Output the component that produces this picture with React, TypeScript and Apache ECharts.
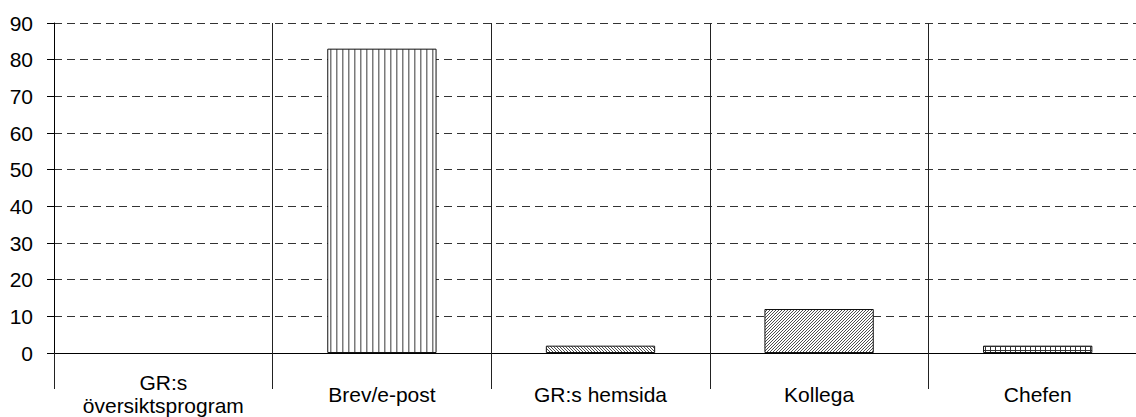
import React, { useEffect, useRef } from "react";
import * as echarts from "echarts";

const categories = ["GR:s\növersiktsprogram", "Brev/e-post", "GR:s hemsida", "Kollega", "Chefen"];
const values = [0, 83, 2, 12, 2];
const yTicks = { min: 0, max: 90, interval: 10 };

type Drawer = (ctx: CanvasRenderingContext2D) => void;

function makePattern(w: number, h: number, draw: Drawer) {
  const c = document.createElement("canvas");
  c.width = w;
  c.height = h;
  const ctx = c.getContext("2d") as CanvasRenderingContext2D;
  ctx.fillStyle = "#ffffff";
  ctx.fillRect(0, 0, w, h);
  draw(ctx);
  return { image: c, repeat: "repeat", imageWidth: w, imageHeight: h };
}

function buildPatterns() {
  const vertical = makePattern(6, 6, (ctx) => {
    ctx.fillStyle = "#7a7a7a";
    ctx.fillRect(0, 0, 1.5, 6);
  });
  const back = makePattern(3, 3, (ctx) => {
    ctx.strokeStyle = "#222";
    ctx.lineWidth = 0.8;
    ctx.beginPath();
    ctx.moveTo(0, 0); ctx.lineTo(3, 3);
    ctx.moveTo(-1, 2); ctx.lineTo(1, 4);
    ctx.moveTo(2, -1); ctx.lineTo(4, 1);
    ctx.stroke();
  });
  const fwd = makePattern(3, 3, (ctx) => {
    ctx.strokeStyle = "#222";
    ctx.lineWidth = 0.8;
    ctx.beginPath();
    ctx.moveTo(0, 3); ctx.lineTo(3, 0);
    ctx.moveTo(-1, 1); ctx.lineTo(1, -1);
    ctx.moveTo(2, 4); ctx.lineTo(4, 2);
    ctx.stroke();
  });
  const grid = makePattern(5, 4, (ctx) => {
    ctx.fillStyle = "#333";
    ctx.fillRect(0, 0, 1, 4);
    ctx.fillRect(0, 2, 5, 1);
  });
  return [null, vertical, back, fwd, grid];
}

export default function App() {
  const ref = useRef<HTMLDivElement>(null);
  useEffect(() => {
    if (!ref.current) return;
    const chart = echarts.init(ref.current, null, { renderer: "svg" });
    const patterns = buildPatterns();
    const font = "Arial, 'Liberation Sans', sans-serif";
    chart.setOption({
      animation: false,
      backgroundColor: "#ffffff",
      grid: { left: 54, top: 23, bottom: 61, right: 0, containLabel: false },
      xAxis: {
        type: "category",
        data: categories,
        boundaryGap: true,
        axisLine: { show: true, lineStyle: { color: "#000", width: 1 } },
        axisTick: { show: true, length: 36, lineStyle: { color: "#222", width: 1 } },
        splitLine: { show: true, lineStyle: { color: "#222", width: 1, type: "solid" } },
        axisLabel: {
          margin: 41,
          fontSize: 21,
          lineHeight: 23,
          color: "#000",
          fontFamily: font,
          verticalAlign: "middle",
          interval: 0,
        },
      },
      yAxis: {
        type: "value",
        min: yTicks.min,
        max: yTicks.max,
        interval: yTicks.interval,
        axisLine: { show: true, lineStyle: { color: "#000", width: 1 } },
        axisTick: { show: true, length: 7, lineStyle: { color: "#000" } },
        splitLine: { show: true, lineStyle: { color: "#333", width: 1, type: [8, 5] } },
        axisLabel: { margin: 21, fontSize: 21, color: "#000", fontFamily: font },
      },
      series: [
        {
          type: "bar",
          barWidth: "50%",
          data: values.map((v, i) => ({
            value: v,
            itemStyle: {
              color: patterns[i] || "#ffffff",
              borderColor: "#111",
              borderWidth: v > 0 ? 1 : 0,
            },
          })),
        },
      ],
    });
    return () => chart.dispose();
  }, []);
  return (
    <div style={{ position: "fixed", left: 0, top: 0, width: 1136, height: 417, overflow: "hidden" }}>
      <div ref={ref} style={{ width: 1147, height: 417 }} />
    </div>
  );
}
